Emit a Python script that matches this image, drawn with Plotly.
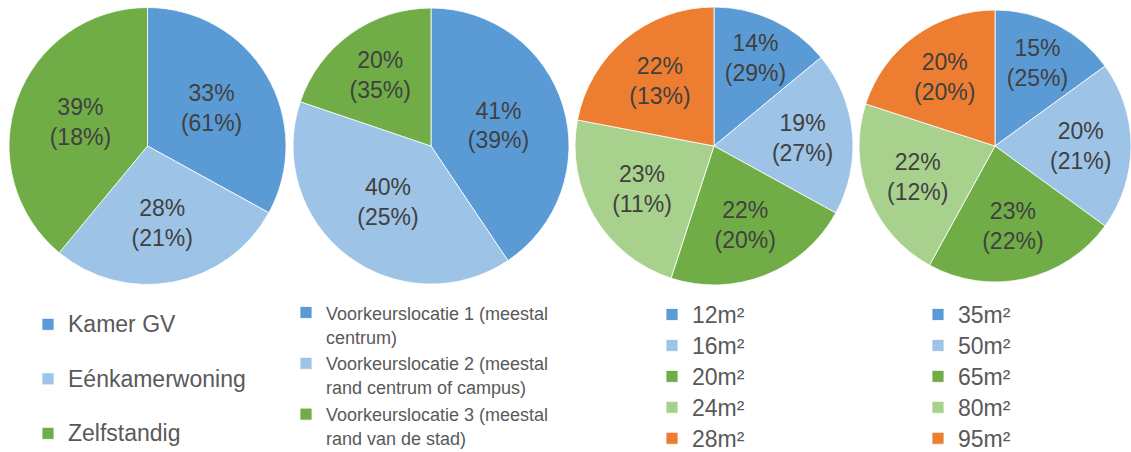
import plotly.graph_objects as go

# ---- data ----
woon_labels = ["Kamer GV", "Eénkamerwoning", "Zelfstandig"]
woon_values = [33, 28, 39]
woon_paren = [61, 21, 18]

loc_labels = ["Voorkeurslocatie 1 (meestal<br>centrum)",
              "Voorkeurslocatie 2 (meestal<br>rand centrum of campus)",
              "Voorkeurslocatie 3 (meestal<br>rand van de stad)"]
loc_values = [41, 40, 20]
loc_paren = [39, 25, 35]

opp1_labels = ["12m²", "16m²", "20m²", "24m²", "28m²"]
opp1_values = [14, 19, 22, 23, 22]
opp1_paren = [29, 27, 20, 11, 13]

opp2_labels = ["35m²", "50m²", "65m²", "80m²", "95m²"]
opp2_values = [15, 20, 23, 22, 20]
opp2_paren = [25, 21, 22, 12, 20]

colors3 = ["#5B9BD5", "#9DC3E6", "#70AD47"]
colors5 = ["#5B9BD5", "#9DC3E6", "#70AD47", "#A9D18E", "#ED7D31"]

W, H = 1131, 452
FONT = "Arial, 'Liberation Sans', sans-serif"


def legend_label(lbl, px, extra_lines=0):
    body = f"<span style='font-size:{px}px'>{lbl}</span>"
    return body + "<br>&nbsp;" * extra_lines


def px_dom(x0, x1, y0, y1):
    return dict(x=[max(0, x0 / W), min(1, x1 / W)], y=[1 - y1 / H, 1 - y0 / H])


fig = go.Figure()

pies = [
    (woon_labels, woon_values, woon_paren, colors3, (9, 286), "legend", 23, 1),
    (loc_labels, loc_values, loc_paren, colors3, (293, 569), "legend2", 18, 0),
    (opp1_labels, opp1_values, opp1_paren, colors5, (575, 853), "legend3", 23, 0),
    (opp2_labels, opp2_values, opp2_paren, colors5, (859, 1135), "legend4", 23, 0),
]

for labels, values, paren, cols, (x0, x1), lg, lpx, extra in pies:
    fig.add_trace(go.Pie(
        labels=[legend_label(l, lpx, extra) for l in labels],
        values=values,
        text=[f"{v}%<br>({p}%)" for v, p in zip(values, paren)],
        textinfo="text",
        textposition="inside",
        insidetextorientation="horizontal",
        textfont=dict(family=FONT, size=23, color="#404040"),
        marker=dict(colors=cols, line=dict(color="white", width=0.8)),
        sort=False,
        direction="clockwise",
        rotation=0,
        domain=px_dom(x0, x1, 7, 285),
        legend=lg,
        hoverinfo="skip",
    ))

leg_common = dict(bgcolor="rgba(0,0,0,0)", yanchor="top", xanchor="left",
                  valign="top", itemclick=False, itemdoubleclick=False)

fig.update_layout(
    width=W, height=H,
    margin=dict(l=0, r=0, t=0, b=0, autoexpand=False),
    paper_bgcolor="white",
    showlegend=True,
    uniformtext=dict(minsize=23, mode="show"),
    font=dict(family=FONT, color="#595959"),
    legend=dict(x=28 / W, y=1 - 305 / H, font=dict(size=19.8, color="#595959", family=FONT), **leg_common),
    legend2=dict(x=286 / W, y=1 - 294 / H, font=dict(size=18.4, color="#595959", family=FONT), **leg_common),
    legend3=dict(x=652 / W, y=1 - 294 / H, font=dict(size=21.5, color="#595959", family=FONT), **leg_common),
    legend4=dict(x=918 / W, y=1 - 294 / H, font=dict(size=21.5, color="#595959", family=FONT), **leg_common),
)

fig.write_html(
    "out.html",
    config={"displayModeBar": False},
    post_script="document.body.style.margin='0';document.body.style.overflow='hidden';",
)
